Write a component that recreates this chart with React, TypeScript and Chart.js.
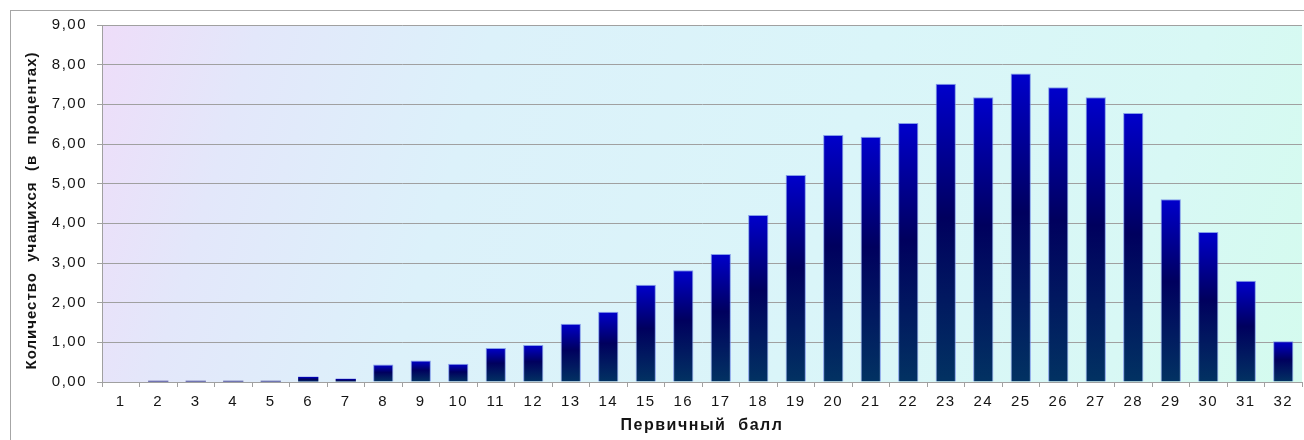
import React, { useEffect, useRef } from 'react';
import { Chart, registerables } from 'chart.js';

Chart.register(...registerables);

const categories = ['1', '2', '3', '4', '5', '6', '7', '8', '9', '10', '11', '12', '13', '14', '15', '16',
  '17', '18', '19', '20', '21', '22', '23', '24', '25', '26', '27', '28', '29', '30', '31', '32'];

const shares = [0, 0.03, 0.03, 0.03, 0.03, 0.13, 0.08, 0.44, 0.54, 0.46, 0.86, 0.93, 1.47, 1.77, 2.45, 2.82,
  3.23, 4.21, 5.22, 6.23, 6.18, 6.53, 7.52, 7.18, 7.78, 7.43, 7.18, 6.78, 4.61, 3.78, 2.55, 1.03];

const yTickLabels = ['0,00', '1,00', '2,00', '3,00', '4,00', '5,00', '6,00', '7,00', '8,00', '9,00'];

const xTitle = 'Первичный  балл';
const yTitle = 'Количество  учащихся  (в  процентах)';

const FAMILY = '"Liberation Sans", Arial, sans-serif';
const TEXT = '#141414';
const GRID = '#A0A0A0';

export default function App() {
  const ref = useRef<HTMLCanvasElement>(null);

  useEffect(() => {
    const canvas = ref.current;
    if (!canvas) return;

    const spacing = {
      id: 'spacing',
      beforeUpdate(c: any) { c.ctx.letterSpacing = '1.5px'; },
      beforeDraw(c: any) { c.ctx.letterSpacing = '1.5px'; },
    };

    const plotBg = {
      id: 'plotBg',
      beforeDraw(c: any) {
        const a = c.chartArea;
        if (!a) return;
        const ctx = c.ctx;
        const g = ctx.createLinearGradient(a.left, a.top, a.right, a.bottom);
        g.addColorStop(0, '#EEDDF9');
        g.addColorStop(0.12, '#E3E7FA');
        g.addColorStop(0.3, '#DCF1FA');
        g.addColorStop(0.6, '#DAF5F9');
        g.addColorStop(0.85, '#D8F8F5');
        g.addColorStop(1, '#D4FBEE');
        ctx.save();
        ctx.fillStyle = g;
        ctx.fillRect(a.left, a.top, a.right - a.left, a.bottom - a.top);
        ctx.restore();
      },
    };

    const yTitlePlugin = {
      id: 'yTitle',
      afterDraw(c: any) {
        const ctx = c.ctx;
        const a = c.chartArea;
        ctx.save();
        ctx.letterSpacing = '1px';
        ctx.font = `bold 15px ${FAMILY}`;
        ctx.fillStyle = TEXT;
        ctx.textAlign = 'center';
        ctx.textBaseline = 'middle';
        ctx.translate(32, (a.top + a.bottom) / 2 + 7);
        ctx.rotate(-Math.PI / 2);
        ctx.fillText(yTitle, 0, 0);
        ctx.restore();
      },
    };

    const barFill = (ctx: any) => {
      const chart = ctx.chart;
      const y = chart.scales && chart.scales.y;
      if (!chart.chartArea || !y || ctx.type !== 'data') return '#00006A';
      const top = y.getPixelForValue(ctx.raw);
      const base = y.getPixelForValue(0);
      if (base - top < 3) return '#00006A';
      const g = chart.ctx.createLinearGradient(0, top, 0, base);
      g.addColorStop(0, '#0000CC');
      g.addColorStop(0.45, '#00005E');
      g.addColorStop(1, '#023262');
      return g;
    };

    const chart = new Chart(canvas, {
      type: 'bar',
      data: {
        labels: categories,
        datasets: [{
          data: shares,
          backgroundColor: barFill,
          borderColor: 'rgba(110,135,230,0.8)',
          borderWidth: (ctx: any) => (ctx.raw > 0.25 ? 1 : 0),
          borderSkipped: 'bottom',
          barPercentage: 0.54,
          categoryPercentage: 1,
        }],
      },
      options: {
        responsive: false,
        animation: false,
        layout: { padding: { left: 0, top: 25, right: 2, bottom: 0 } },
        plugins: { legend: { display: false }, tooltip: { enabled: false } },
        scales: {
          x: {
            grid: { display: true, drawOnChartArea: false, drawTicks: true, tickLength: 5, color: GRID, offset: true },
            border: { display: true, color: GRID },
            ticks: { color: TEXT, font: { family: FAMILY, size: 15 }, padding: 6, maxRotation: 0, autoSkip: false },
            title: {
              display: true, text: xTitle, color: TEXT,
              font: { family: FAMILY, size: 16, weight: 'bold' },
              padding: { top: 0, bottom: 5 },
            },
            afterFit(s: any) { s.height = 58; },
          },
          y: {
            min: 0,
            max: 9,
            ticks: {
              stepSize: 1,
              callback: (v: any) => yTickLabels[Math.round(Number(v))],
              padding: 10,
              color: TEXT,
              font: { family: FAMILY, size: 15 },
            },
            grid: { color: GRID, tickLength: 5, drawTicks: true },
            border: { display: true, color: GRID },
            afterFit(s: any) { s.width = 102; },
          },
        },
      },
      plugins: [spacing, plotBg, yTitlePlugin],
    } as any);

    return () => chart.destroy();
  }, []);

  return (
    <div style={{ position: 'fixed', left: 0, top: 0, width: 1304, height: 440, background: '#ffffff', overflow: 'hidden' }}>
      <canvas ref={ref} width={1304} height={440} style={{ display: 'block', width: 1304, height: 440 }} />
      <div style={{
        position: 'absolute', left: 10, top: 10, right: 0, bottom: 0,
        borderLeft: '1px solid #A6A6A6', borderTop: '1px solid #A6A6A6', pointerEvents: 'none',
      }} />
    </div>
  );
}
